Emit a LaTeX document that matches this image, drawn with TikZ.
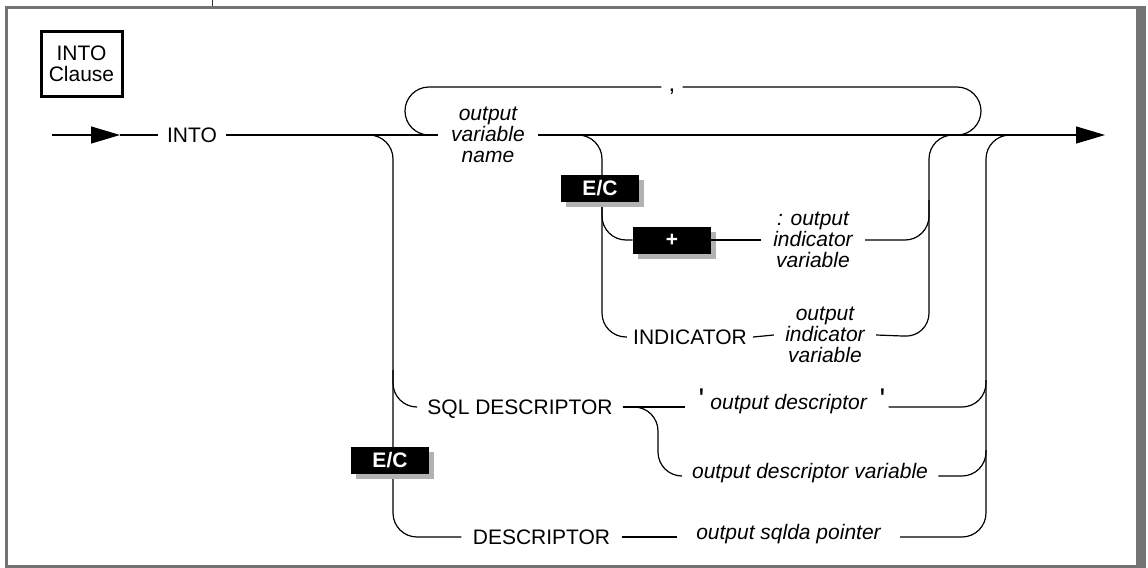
\documentclass[tikz,border=0pt]{standalone}
\usepackage{fontspec}
\setmainfont{Liberation Sans}
\usetikzlibrary{
  arrows.meta,  % Triangle 箭头
  shadows       % 标签框阴影
}
\newcommand{\railsize}{\fontsize{10.5}{10.5}\selectfont}
\newcommand{\quotefont}{\fontsize{15}{15}\selectfont}
\tikzset{
  rail/.style={
    line width=0.6pt,
    rounded corners=12pt
  },
  flow tip/.style={
    -{Triangle[length=14.5pt,width=8.5pt]}
  },
  kw label/.style={
    inner xsep=5pt,
    inner ysep=0pt,
    text depth=0pt,
    font=\railsize
  },
  var label/.style={
    kw label,
    font=\railsize\itshape,
    align=center
  },
  on rail/.style={
    text height=6pt,
    text depth=4pt
  },
  tag box/.style={
    fill=black,
    text=white,
    font=\railsize\bfseries,
    inner sep=0pt,
    minimum width=39pt,
    minimum height=13.5pt,
    drop shadow={shadow xshift=2.5pt, shadow yshift=-2.5pt,
      fill=black!30, opacity=1}
  },
  frame line/.style={
    draw=black!55,
    line width=1.5pt
  }
}

\begin{document}
\begin{tikzpicture}[x=0.5pt, y=-0.5pt]
    \useasboundingbox (0,0) rectangle (1148,568);

    % --- 外框 ---
    \draw[frame line] (6.5,7.5) rectangle (1137,566.5);
    \fill[black!55] (1136,6) rectangle (1146,568);
    \draw[black!80, line width=0.5pt] (212,0) -- (212,6);

    % --- 标题框 ---
    \node[draw, line width=1.5pt, minimum width=40.5pt, minimum height=32.5pt,
      inner sep=0pt, align=center, font=\railsize] (clause) at (81.5,63.5)
      {INTO\\Clause};

    % --- 文字节点 ---
    \node[kw label, inner xsep=3.5pt, text height=0pt] (comma) at (672,87)
      {\raisebox{-2pt}{\fontsize{12}{12}\selectfont ,}};
    \node[kw label, inner xsep=4.5pt] (into) at (192,135) {INTO};
    \node[var label, inner xsep=6.5pt] (ovn) at (488,135) {output\\variable\\name};
    \node[tag box] (plus) at (672,240) {+};
    \node[var label, inner xsep=6pt] (oiv1) at (813,240) {: output\\indicator\\variable};
    \node[kw label, inner xsep=3pt] (ind) at (690,337) {INDICATOR};
    \node[var label, inner xsep=5.5pt] (oiv2) at (825,335) {output\\indicator\\variable};
    \node[kw label] (sqld) at (520,407) {SQL DESCRIPTOR};
    \node[kw label, on rail, inner xsep=1.5pt] (odesc) at (787,407)
      {\hspace{5pt}{\quotefont\textquotesingle}\hspace{3pt}\textit{output descriptor}\hspace{6pt}{\quotefont\textquotesingle}};
    \node[var label, on rail] (odv) at (810,476) {output descriptor variable};
    \node[kw label, inner xsep=5.5pt] (desc) at (541.5,537) {DESCRIPTOR};
    \node[var label, on rail, inner xsep=9.5pt] (osp) at (788.5,537) {output sqlda pointer};

    % --- 主线 ---
    \coordinate (start) at (52,135);
    \coordinate (tipin) at (120,135);
    \coordinate (stop) at (1105,135);
    \draw[rail, flow tip] (start) -- (tipin);
    \draw[rail] (tipin) -- (into.west);
    \draw[rail] (into.east) -- (ovn.west);
    \draw[rail, flow tip] (ovn.east) -- (stop);

    % 逗号回路
    \draw[rail] (ovn.west) -- (405,135) -- (405,87) -- (comma.west);
    \draw[rail] (comma.east) -- (981,87) -- (981,135) -- (940,135);

    % --- 指示变量分支 ---
    \draw[rail] (560,135) -- (602,135) -- (602,337) -- (ind.west);
    \draw[rail] (602,200) -- (602,240) -- (plus.west);
    \draw[rail] (plus.east) -- (oiv1.west);
    \draw[rail] (oiv1.east) -- (929,240) -- (929,200);
    \draw[rail] (ind.east) -- (oiv2.west);
    \draw[rail] (oiv2.east) -- (929,337) -- (929,135) -- (970,135);

    % --- 描述符分支 ---
    \draw[rail] (350,135) -- (393,135) -- (393,537) -- (desc.west);
    \draw[rail] (393,370) -- (393,407) -- (sqld.west);
    \draw[rail] (sqld.east) -- (odesc.west);
    \draw[rail] (odesc.east) -- (986,407) -- (986,380);
    \draw[rail] (sqld.east) -- (658,407) -- (658,476) -- (odv.west);
    \draw[rail] (odv.east) -- (986,476) -- (986,450);
    \draw[rail] (desc.east) -- (osp.west);
    \draw[rail] (osp.east) -- (986,537) -- (986,135) -- (1040,135);

    % --- E/C 标记 ---
    \node[tag box] (ec1) at (600,188.5) {E/C};
    \node[tag box] (ec2) at (390,460) {E/C};
\end{tikzpicture}
\end{document}
